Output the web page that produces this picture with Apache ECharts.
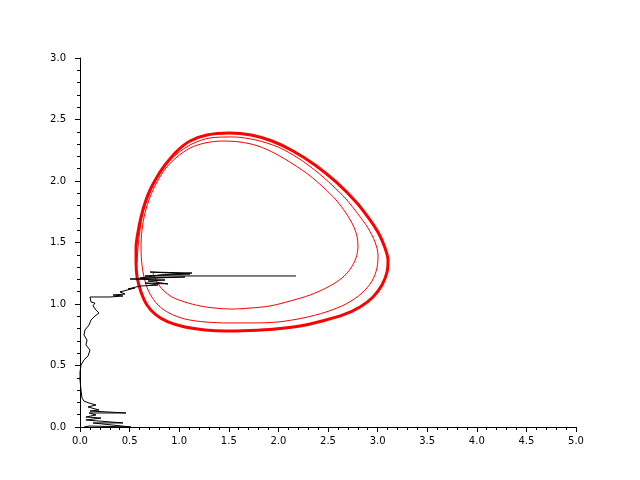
<!DOCTYPE html>
<html>
<head>
<meta charset="utf-8">
<script src="https://cdn.jsdelivr.net/npm/echarts@6/dist/echarts.min.js"></script>
<style>
html,body{margin:0;padding:0;background:#fff;}
#chart{width:640px;height:480px;}
</style>
</head>
<body>
<div id="chart"></div>
<script>
// tick labels
var xTicks = [0, 0.5, 1, 1.5, 2, 2.5, 3, 3.5, 4, 4.5, 5];
var yTicks = [0, 0.5, 1, 1.5, 2, 2.5, 3];

// red trajectory: first two turns of the spiral (x, y)
var spiralX = [0.736,0.776,0.837,0.927,1.058,1.210,1.361,1.532,1.714,1.915,2.117,2.319,2.500,2.641,2.732,2.782,2.802,2.792,2.752,2.681,2.581,2.450,2.308,2.147,1.976,1.794,1.613,1.431,1.260,1.109,0.978,0.867,0.776,0.706,0.655,0.625,0.615,0.625,0.655,0.706,0.786,0.897,1.058,1.260,1.492,1.744,1.996,2.248,2.480,2.681,2.843,2.944,2.994,3.004,2.974,2.903,2.802,2.681,2.540,2.379,2.198,1.996,1.774,1.542,1.310,1.129,0.978,0.857,0.766,0.696,0.635,0.605,0.585,0.575];
var spiralY = [1.252,1.179,1.114,1.057,1.016,0.984,0.967,0.959,0.967,0.984,1.024,1.073,1.138,1.211,1.293,1.374,1.463,1.553,1.642,1.740,1.846,1.951,2.049,2.138,2.220,2.285,2.317,2.325,2.309,2.268,2.195,2.106,1.992,1.870,1.740,1.602,1.455,1.317,1.187,1.081,0.992,0.927,0.878,0.854,0.846,0.846,0.854,0.886,0.935,1.000,1.089,1.187,1.293,1.398,1.504,1.618,1.732,1.854,1.967,2.081,2.187,2.276,2.333,2.358,2.350,2.301,2.220,2.122,2.008,1.886,1.740,1.602,1.463,1.341];

// red trajectory: settled cycle
var cycleX = [0.565,0.575,0.615,0.675,0.766,0.887,1.058,1.260,1.462,1.714,1.966,2.218,2.440,2.651,2.823,2.954,3.044,3.095,3.105,3.075,3.014,2.923,2.792,2.581,2.369,2.147,1.935,1.724,1.502,1.280,1.109,0.968,0.857,0.776,0.706,0.655,0.615,0.585,0.565,0.565,0.575,0.615];
var cycleY = [1.341,1.220,1.098,0.992,0.911,0.854,0.813,0.789,0.780,0.785,0.797,0.821,0.862,0.911,0.976,1.057,1.154,1.260,1.358,1.455,1.569,1.683,1.821,1.992,2.130,2.244,2.325,2.374,2.390,2.374,2.325,2.236,2.130,2.033,1.927,1.821,1.707,1.585,1.463,1.341,1.220,1.098];

// black estimate path
var estX = [2.177,0.655,1.109,0.706,1.129,0.806,0.605,1.058,0.504,0.857,0.685,0.887,0.655,0.786,0.605,0.484,0.554,0.403,0.454,0.333,0.433,0.302,0.101,0.081,0.111,0.151,0.131,0.161,0.192,0.151,0.111,0.091,0.050,0.040,0.071,0.060,0.101,0.121,0.081,0.040,0.010,0.000,0.000,0.010,0.020,0.040,0.091,0.161,0.081,0.192,0.101,0.464,0.091,0.161,0.060,0.212,0.060,0.433,0.131,0.514,0.091,0.040];
var estY = [1.228,1.228,1.244,1.260,1.252,1.236,1.211,1.220,1.203,1.195,1.187,1.163,1.171,1.154,1.146,1.122,1.130,1.098,1.081,1.073,1.065,1.057,1.057,1.041,1.016,1.008,0.984,0.951,0.927,0.902,0.870,0.829,0.789,0.748,0.707,0.667,0.626,0.610,0.577,0.545,0.504,0.447,0.382,0.301,0.236,0.211,0.195,0.179,0.163,0.138,0.130,0.114,0.114,0.098,0.081,0.073,0.057,0.033,0.033,0.000,0.008,0.000];

function pairs(xs, ys) {
	var out = [];
	for (var i = 0; i < xs.length; i++) {
		out.push([xs[i], ys[i]]);
	}
	return out;
}

var chart = echarts.init(document.getElementById('chart'));

var labelStyle = {
	color: '#000',
	fontFamily: 'DejaVu Sans',
	fontSize: 10,
	formatter: function (v) { return v.toFixed(1); }
};

var option = {
	animation: false,
	backgroundColor: '#fff',
	grid: { left: 80, right: 64, top: 58, bottom: 53, containLabel: false },
	xAxis: {
		type: 'value',
		min: xTicks[0],
		max: xTicks[xTicks.length - 1],
		interval: 0.5,
		axisLine: { show: true, onZero: false, lineStyle: { color: '#000', width: 1 } },
		axisTick: { show: true, inside: false, length: 5, lineStyle: { color: '#000' } },
		minorTick: { show: true, splitNumber: 5, length: 3, lineStyle: { color: '#000' } },
		splitLine: { show: false },
		axisLabel: Object.assign({ margin: 9 }, labelStyle)
	},
	yAxis: {
		type: 'value',
		min: yTicks[0],
		max: yTicks[yTicks.length - 1],
		interval: 0.5,
		axisLine: { show: true, onZero: false, lineStyle: { color: '#000', width: 1 } },
		axisTick: { show: true, inside: false, length: 5, lineStyle: { color: '#000' } },
		minorTick: { show: true, splitNumber: 5, length: 3, lineStyle: { color: '#000' } },
		splitLine: { show: false },
		axisLabel: Object.assign({ margin: 14 }, labelStyle)
	},
	series: [{
		type: 'line',
		data: pairs(spiralX, spiralY),
		showSymbol: false,
		smooth: 0.3,
		lineStyle: { color: '#ff0000', width: 1 },
		silent: true
	}, {
		type: 'line',
		data: pairs(cycleX, cycleY),
		showSymbol: false,
		smooth: 0.3,
		lineStyle: { color: '#ff0000', width: 3 },
		silent: true
	}, {
		type: 'line',
		data: pairs(estX, estY),
		showSymbol: false,
		smooth: false,
		lineStyle: { color: '#000', width: 1 },
		silent: true
	}]
};

chart.setOption(option);
</script>
</body>
</html>
